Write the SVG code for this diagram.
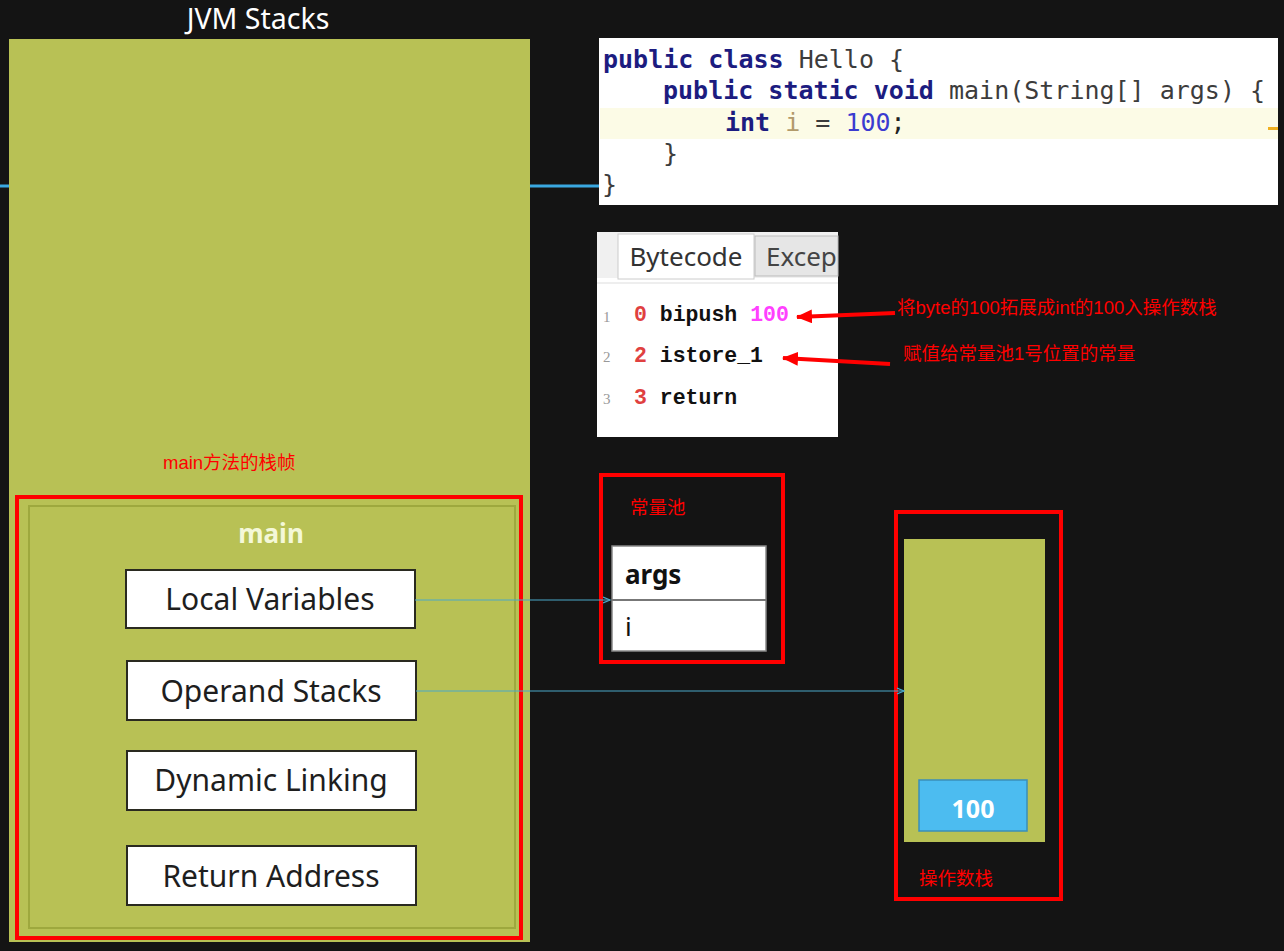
<svg xmlns="http://www.w3.org/2000/svg" width="1284" height="951" viewBox="0 0 1284 951">
<defs>
<style>
.bg{fill:#141414}
.green{fill:#b8c155}
.redbox{fill:none;stroke:#ff0000;stroke-width:4}
.redtxt{fill:#ff0000;font-family:"Liberation Sans","Noto Sans CJK SC",sans-serif;font-size:18.5px}
.slot{fill:#ffffff;stroke:#2a2a20;stroke-width:2}
.slottxt{fill:#1e1e1e;font-family:"Noto Sans","Open Sans",sans-serif;font-size:30px;text-anchor:middle}
.code{font-family:"DejaVu Sans Mono","Liberation Mono",monospace;font-size:25px}
.kw{fill:#1c1c80;font-weight:bold}
.pl{fill:#3c3c3c}
.bc{font-family:"Liberation Mono",monospace;font-size:21.5px;font-weight:bold}
.ln{fill:#999;font-family:"Liberation Serif",serif;font-size:15px}
.conn{stroke:#4aa8c8;stroke-width:1;fill:none}
</style>
<marker id="redArrow" markerWidth="16" markerHeight="14" refX="15" refY="7" orient="auto" markerUnits="userSpaceOnUse" viewBox="0 0 16 14">
<path d="M0,0 L16,7 L0,14 Z" fill="#ff0000"/>
</marker>
<marker id="blueArrow" markerWidth="8" markerHeight="8" refX="7" refY="4" orient="auto" markerUnits="userSpaceOnUse" viewBox="0 0 8 8">
<path d="M0,1 L7,4 L0,7" fill="none" stroke="#4aa8c8" stroke-width="1.2"/>
</marker>
</defs>
<rect class="bg" x="0" y="0" width="1284" height="951"/>

<g id="jvm-stacks">
<text x="258" y="29" fill="#ffffff" font-family="'Noto Sans','Open Sans',sans-serif" font-size="28.5" text-anchor="middle">JVM Stacks</text>
<rect class="green" x="9" y="39" width="521" height="903"/>
</g>

<g id="code-panel">
<rect x="599" y="38" width="679" height="167" fill="#ffffff"/>
<rect x="600" y="108" width="678" height="31" fill="#fcfbe6"/>
<rect x="1268" y="127" width="10" height="3" fill="#f0b020"/>
<text class="code" x="603" y="68"><tspan class="kw">public class</tspan><tspan class="pl"> Hello {</tspan></text>
<text class="code" x="663" y="99"><tspan class="kw">public static void</tspan><tspan class="pl"> main(String[] args) {</tspan></text>
<text class="code" x="725" y="131"><tspan class="kw">int</tspan><tspan fill="#b29a6a"> i</tspan><tspan class="pl"> = </tspan><tspan fill="#3b3bd0">100</tspan><tspan fill="#222">;</tspan></text>
<text class="code pl" x="663" y="162">}</text>
<text class="code pl" x="602" y="193">}</text>
</g>

<g id="bytecode-panel">
<rect x="597" y="232" width="241" height="205" fill="#ffffff"/>
<rect x="597" y="232" width="241" height="46" fill="#f0f0f0"/>
<rect x="618" y="234" width="136" height="45" fill="#ffffff" stroke="#cccccc" stroke-width="1"/>
<rect x="755" y="236" width="83" height="40" fill="#e6e6e6" stroke="#bbbbbb" stroke-width="1"/>
<line x1="597" y1="283" x2="838" y2="283" stroke="#dddddd" stroke-width="1"/>
<text x="686" y="266" fill="#333" font-family="'Noto Sans','Open Sans',sans-serif" font-size="26" text-anchor="middle">Bytecode</text>
<text x="766" y="266" fill="#444" font-family="'Noto Sans','Open Sans',sans-serif" font-size="26">Excep</text>
<text class="ln" x="603" y="322">1</text>
<text class="ln" x="603" y="362">2</text>
<text class="ln" x="603" y="404">3</text>
<text class="bc" x="634" y="321"><tspan fill="#e04040">0</tspan><tspan fill="#111"> bipush </tspan><tspan fill="#ff40ff">100</tspan></text>
<text class="bc" x="634" y="362"><tspan fill="#e04040">2</tspan><tspan fill="#111"> istore_1</tspan></text>
<text class="bc" x="634" y="404"><tspan fill="#e04040">3</tspan><tspan fill="#111"> return</tspan></text>
</g>

<g id="annotations">
<text class="redtxt" x="897" y="314" font-size="19">将byte的100拓展成int的100入操作数栈</text>
<text class="redtxt" x="903" y="360">赋值给常量池1号位置的常量</text>
<text class="redtxt" x="163" y="469">main方法的栈帧</text>
</g>

<g id="main-frame">
<rect class="redbox" x="17" y="497" width="504" height="441"/>
<rect x="29" y="506" width="486" height="422" fill="none" stroke="#9ea83e" stroke-width="2"/>
<text x="271" y="543" fill="#f4f8d8" font-family="'Noto Sans','Open Sans',sans-serif" font-size="26" font-weight="bold" text-anchor="middle">main</text>
</g>
<g id="local-variables">
<rect class="slot" x="126" y="570" width="289" height="58"/>
<text class="slottxt" x="270" y="610">Local Variables</text>
</g>
<g id="operand-stacks">
<rect class="slot" x="127" y="661" width="289" height="59"/>
<text class="slottxt" x="271" y="702">Operand Stacks</text>
</g>
<g id="dynamic-linking">
<rect class="slot" x="127" y="751" width="289" height="59"/>
<text class="slottxt" x="271" y="791">Dynamic Linking</text>
</g>
<g id="return-address">
<rect class="slot" x="127" y="846" width="289" height="59"/>
<text class="slottxt" x="271" y="887">Return Address</text>
</g>

<g id="constant-pool">
<rect class="redbox" x="601" y="475" width="182" height="187"/>
<text class="redtxt" x="630" y="514">常量池</text>
<rect x="612" y="546" width="154" height="105" fill="#ffffff" stroke="#888" stroke-width="1.5"/>
<line x1="612" y1="600" x2="766" y2="600" stroke="#777" stroke-width="2"/>
<text x="625" y="584" fill="#111" font-family="'Noto Sans','Open Sans',sans-serif" font-size="26" font-weight="bold">args</text>
<text x="625" y="636" fill="#111" font-family="'Noto Sans','Open Sans',sans-serif" font-size="26">i</text>
</g>

<g id="operand-stack">
<rect class="redbox" x="896" y="512" width="165" height="387"/>
<rect class="green" x="904" y="539" width="141" height="303"/>
<rect x="919" y="780" width="108" height="51" fill="#4cbcf0" stroke="#3a8fb8" stroke-width="1.5"/>
<text x="973" y="818" fill="#ffffff" font-family="'Noto Sans','Open Sans',sans-serif" font-size="25" font-weight="bold" text-anchor="middle">100</text>
<text class="redtxt" x="919" y="885">操作数栈</text>
</g>

<g id="connectors">
<line x1="0" y1="186" x2="9" y2="186" stroke="#3aa8e0" stroke-width="3"/>
<line x1="530" y1="186" x2="599" y2="186" stroke="#3aa8e0" stroke-width="3"/>
<line class="conn" x1="415" y1="600" x2="610" y2="600" marker-end="url(#blueArrow)"/>
<line class="conn" x1="416" y1="691" x2="904" y2="691" marker-end="url(#blueArrow)"/>
<line x1="895" y1="313" x2="797" y2="317" stroke="#ff0000" stroke-width="4" marker-end="url(#redArrow)"/>
<line x1="890" y1="364" x2="783" y2="358" stroke="#ff0000" stroke-width="4" marker-end="url(#redArrow)"/>
</g>
</svg>
